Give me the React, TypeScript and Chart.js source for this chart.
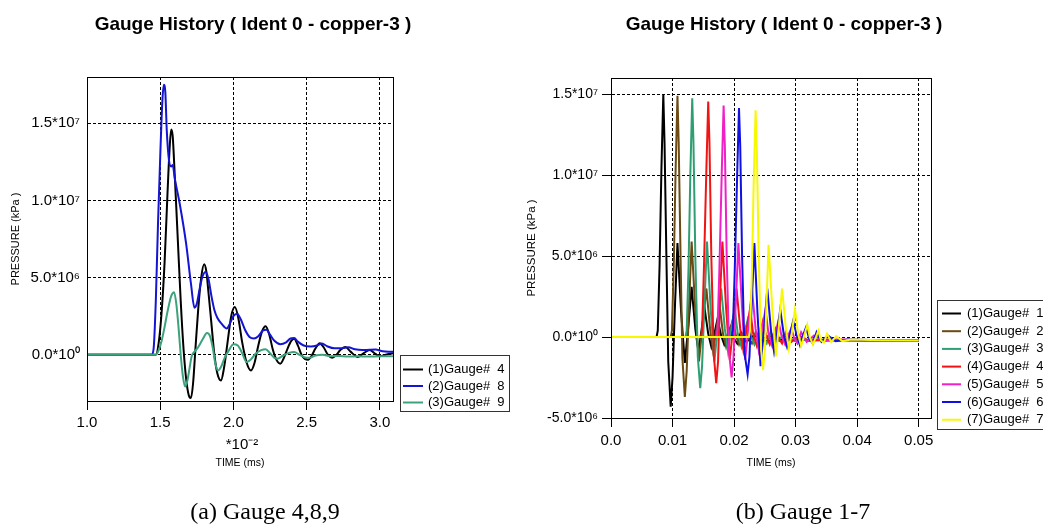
import React, { useEffect, useRef } from 'react';
import { Chart, registerables } from 'chart.js';

Chart.register(...registerables);

const FONT = '"Liberation Sans", Arial, Helvetica, sans-serif';
const SERIF = '"Liberation Serif", "Times New Roman", serif';

// ---------------- Left chart (a): time in units of 10^-2 ms, pressure in kPa ----------------
const leftXTicks = [1.0, 1.5, 2.0, 2.5, 3.0];
const leftXTickLabels = ['1.0', '1.5', '2.0', '2.5', '3.0'];
const leftYTicks = [0, 5e6, 1e7, 1.5e7];
const leftYTickLabels = ['0.0*10\u2070', '5.0*10\u2076', '1.0*10\u2077', '1.5*10\u2077'];

const leftTimeG4 = [1.0, 1.47, 1.49, 1.51, 1.53, 1.55, 1.565, 1.575, 1.585, 1.60, 1.62, 1.64, 1.66, 1.68, 1.70, 1.71, 1.725, 1.74, 1.76, 1.78, 1.80, 1.815, 1.83, 1.85, 1.87, 1.89, 1.915, 1.935, 1.96, 1.985, 2.01, 2.035, 2.06, 2.09, 2.12, 2.145, 2.17, 2.195, 2.22, 2.245, 2.27, 2.295, 2.32, 2.345, 2.37, 2.395, 2.415, 2.44, 2.465, 2.49, 2.51, 2.535, 2.56, 2.59, 2.615, 2.645, 2.675, 2.70, 2.73, 2.765, 2.80, 2.85, 2.89, 2.93, 2.97, 3.00, 3.04, 3.09];
const leftPressG4 = [0, 0, 0.8e6, 2.8e6, 6.0e6, 10.5e6, 13.5e6, 14.6e6, 14.2e6, 11.5e6, 7.5e6, 3.5e6, 0.3e6, -1.8e6, -2.75e6, -2.8e6, -1.8e6, 0.3e6, 3.0e6, 5.0e6, 5.86e6, 5.4e6, 4.0e6, 2.0e6, 0.0, -1.2e6, -1.67e6, -0.9e6, 0.8e6, 2.5e6, 3.09e6, 2.3e6, 0.8e6, -0.5e6, -1.02e6, -0.5e6, 0.6e6, 1.5e6, 1.84e6, 1.3e6, 0.3e6, -0.35e6, -0.58e6, -0.2e6, 0.4e6, 0.9e6, 1.04e6, 0.6e6, 0.0, -0.28e6, -0.32e6, -0.05e6, 0.4e6, 0.75e6, 0.5e6, 0.0, -0.2e6, -0.05e6, 0.3e6, 0.5e6, 0.2e6, -0.15e6, 0.1e6, 0.3e6, 0.05e6, -0.1e6, 0.0, 0.1e6];

const leftTimeG8 = [1.0, 1.44, 1.455, 1.47, 1.485, 1.50, 1.515, 1.525, 1.535, 1.545, 1.56, 1.575, 1.585, 1.60, 1.633, 1.677, 1.71, 1.734, 1.75, 1.77, 1.79, 1.81, 1.83, 1.85, 1.87, 1.89, 1.92, 1.955, 1.975, 2.00, 2.025, 2.05, 2.08, 2.11, 2.14, 2.17, 2.20, 2.225, 2.25, 2.28, 2.32, 2.36, 2.39, 2.415, 2.44, 2.48, 2.53, 2.57, 2.605, 2.64, 2.69, 2.74, 2.785, 2.83, 2.88, 2.93, 2.97, 3.02, 3.06, 3.09];
const leftPressG8 = [0, 0, 0.4e6, 3.5e6, 8.5e6, 12.8e6, 16.5e6, 17.5e6, 17.0e6, 14.5e6, 12.6e6, 12.2e6, 12.3e6, 11.4e6, 9.8e6, 7.2e6, 4.6e6, 3.05e6, 3.3e6, 4.3e6, 5.1e6, 5.36e6, 4.9e6, 3.8e6, 2.9e6, 2.4e6, 2.0e6, 1.7e6, 2.0e6, 2.5e6, 2.66e6, 2.3e6, 1.6e6, 1.15e6, 1.05e6, 1.2e6, 1.55e6, 1.62e6, 1.3e6, 0.9e6, 0.68e6, 0.8e6, 1.05e6, 1.08e6, 0.85e6, 0.6e6, 0.54e6, 0.6e6, 0.72e6, 0.55e6, 0.42e6, 0.42e6, 0.48e6, 0.35e6, 0.3e6, 0.32e6, 0.33e6, 0.22e6, 0.2e6, 0.2e6];

const leftTimeG9 = [1.0, 1.47, 1.49, 1.51, 1.53, 1.55, 1.575, 1.595, 1.61, 1.625, 1.64, 1.655, 1.67, 1.685, 1.70, 1.715, 1.735, 1.76, 1.79, 1.82, 1.84, 1.86, 1.875, 1.895, 1.915, 1.94, 1.97, 2.00, 2.03, 2.06, 2.09, 2.12, 2.15, 2.19, 2.22, 2.25, 2.28, 2.30, 2.34, 2.38, 2.415, 2.45, 2.49, 2.52, 2.56, 2.61, 2.66, 2.72, 2.78, 2.85, 2.92, 3.00, 3.09];
const leftPressG9 = [0, 0, 0.3e6, 0.9e6, 1.8e6, 2.8e6, 3.8e6, 4.05e6, 3.3e6, 1.8e6, 0.0, -1.4e6, -2.06e6, -1.7e6, -0.9e6, -0.1e6, 0.2e6, 0.5e6, 1.0e6, 1.4e6, 1.2e6, 0.4e6, -0.5e6, -1.02e6, -0.8e6, -0.2e6, 0.3e6, 0.68e6, 0.6e6, 0.1e6, -0.48e6, -0.3e6, 0.05e6, 0.3e6, 0.36e6, 0.1e6, -0.2e6, -0.26e6, -0.05e6, 0.12e6, 0.17e6, 0.0, -0.18e6, -0.2e6, -0.05e6, 0.0, -0.1e6, -0.08e6, -0.12e6, -0.1e6, -0.12e6, -0.1e6, -0.1e6];

const leftLabels = ['(1)Gauge#  4', '(2)Gauge#  8', '(3)Gauge#  9'];
const leftColors = ['#000000', '#1414d4', '#3ca27c'];

// ---------------- Right chart (b): time in ms, pressure in kPa ----------------
const rightXTicks = [0, 0.01, 0.02, 0.03, 0.04, 0.05];
const rightXTickLabels = ['0.0', '0.01', '0.02', '0.03', '0.04', '0.05'];
const rightYTicks = [-5e6, 0, 5e6, 1e7, 1.5e7];
const rightYTickLabels = ['-5.0*10\u2076', '0.0*10\u2070', '5.0*10\u2076', '1.0*10\u2077', '1.5*10\u2077'];

const rightTimeG1 = [0, 0.0074, 0.0076, 0.0079, 0.0082, 0.0085, 0.0087, 0.0090, 0.0093, 0.0097, 0.0100, 0.0104, 0.0108, 0.0114, 0.0120, 0.0126, 0.0131, 0.0137, 0.0142, 0.0147, 0.0152, 0.0158, 0.0163, 0.0168, 0.0173, 0.0179, 0.0184, 0.0189, 0.0194, 0.0200, 0.0205, 0.0211, 0.0220, 0.0232, 0.0250, 0.0280, 0.0350, 0.0500];
const rightPressG1 = [0, 0, 0.4e6, 4.5e6, 10.5e6, 15.0e6, 12.0e6, 5.0e6, -1.5e6, -4.3e6, -2.5e6, 2.0e6, 5.8e6, 1.5e6, -1.6e6, 0.8e6, 3.1e6, 0.5e6, -0.9e6, 0.4e6, 1.8e6, 0.2e6, -0.6e6, 0.2e6, 1.1e6, 0.1e6, -0.45e6, 0.1e6, 0.6e6, -0.1e6, -0.4e6, 0.3e6, -0.3e6, 0.1e6, -0.25e6, -0.15e6, -0.2e6, -0.22e6];

const rightTimeG2 = [0, 0.0097, 0.0099, 0.0102, 0.0105, 0.0108, 0.0110, 0.0113, 0.0116, 0.0120, 0.0123, 0.0127, 0.0131, 0.0137, 0.0143, 0.0149, 0.0155, 0.0161, 0.0166, 0.0171, 0.0177, 0.0182, 0.0187, 0.0192, 0.0198, 0.0203, 0.0208, 0.0213, 0.0219, 0.0224, 0.0229, 0.0235, 0.0244, 0.0256, 0.0274, 0.0300, 0.0370, 0.0500];
const rightPressG2 = [0, 0, 0.4e6, 4.4e6, 10.3e6, 14.9e6, 12.0e6, 5.0e6, -1.3e6, -3.7e6, -2.1e6, 2.1e6, 5.9e6, 1.6e6, -1.5e6, 0.8e6, 3.0e6, 0.5e6, -0.9e6, 0.4e6, 1.8e6, 0.2e6, -0.6e6, 0.2e6, 1.1e6, 0.1e6, -0.45e6, 0.1e6, 0.6e6, -0.1e6, -0.4e6, 0.3e6, -0.3e6, 0.1e6, -0.25e6, -0.15e6, -0.2e6, -0.22e6];

const rightTimeG3 = [0, 0.0121, 0.0123, 0.0126, 0.0129, 0.0132, 0.0134, 0.0137, 0.0141, 0.0145, 0.0148, 0.0152, 0.0156, 0.0162, 0.0168, 0.0174, 0.0179, 0.0185, 0.0190, 0.0195, 0.0201, 0.0206, 0.0212, 0.0217, 0.0222, 0.0227, 0.0233, 0.0238, 0.0243, 0.0248, 0.0253, 0.0259, 0.0268, 0.0280, 0.0298, 0.0325, 0.0390, 0.0500];
const rightPressG3 = [0, 0, 0.4e6, 4.3e6, 10.2e6, 14.75e6, 12.0e6, 5.0e6, -1.2e6, -3.15e6, -1.8e6, 2.2e6, 5.9e6, 1.7e6, -1.5e6, 0.8e6, 3.0e6, 0.5e6, -0.85e6, 0.4e6, 1.75e6, 0.2e6, -0.6e6, 0.2e6, 1.05e6, 0.1e6, -0.45e6, 0.1e6, 0.6e6, -0.1e6, -0.4e6, 0.3e6, -0.3e6, 0.1e6, -0.25e6, -0.15e6, -0.2e6, -0.22e6];

const rightTimeG4 = [0, 0.0146, 0.0148, 0.0151, 0.0155, 0.0158, 0.0160, 0.0163, 0.0167, 0.0171, 0.0174, 0.0177, 0.0181, 0.0187, 0.0193, 0.0199, 0.0204, 0.0210, 0.0215, 0.0220, 0.0226, 0.0231, 0.0237, 0.0242, 0.0247, 0.0252, 0.0258, 0.0263, 0.0268, 0.0273, 0.0278, 0.0284, 0.0293, 0.0305, 0.0322, 0.0350, 0.0410, 0.0500];
const rightPressG4 = [0, 0, 0.4e6, 4.2e6, 10.4e6, 14.55e6, 12.0e6, 5.0e6, -1.1e6, -2.85e6, -1.5e6, 2.3e6, 5.9e6, 1.8e6, -1.4e6, 0.8e6, 3.0e6, 0.5e6, -0.8e6, 0.4e6, 1.75e6, 0.2e6, -0.55e6, 0.2e6, 1.0e6, 0.1e6, -0.45e6, 0.1e6, 0.55e6, -0.1e6, -0.4e6, 0.3e6, -0.3e6, 0.1e6, -0.25e6, -0.15e6, -0.2e6, -0.22e6];

const rightTimeG5 = [0, 0.0171, 0.0173, 0.0176, 0.0180, 0.0183, 0.0185, 0.0188, 0.0192, 0.0196, 0.0199, 0.0203, 0.0207, 0.0213, 0.0218, 0.0224, 0.0229, 0.0235, 0.0240, 0.0245, 0.0251, 0.0256, 0.0262, 0.0267, 0.0272, 0.0277, 0.0283, 0.0288, 0.0293, 0.0298, 0.0303, 0.0309, 0.0318, 0.0330, 0.0345, 0.0370, 0.0430, 0.0500];
const rightPressG5 = [0, 0, 0.4e6, 4.0e6, 10.2e6, 14.3e6, 11.8e6, 5.0e6, -1.0e6, -2.5e6, -1.3e6, 2.3e6, 5.8e6, 1.8e6, -1.4e6, 0.8e6, 3.0e6, 0.5e6, -0.8e6, 0.4e6, 1.7e6, 0.2e6, -0.55e6, 0.2e6, 1.0e6, 0.1e6, -0.45e6, 0.1e6, 0.55e6, -0.1e6, -0.4e6, 0.3e6, -0.3e6, 0.1e6, -0.25e6, -0.15e6, -0.2e6, -0.22e6];

const rightTimeG6 = [0, 0.0196, 0.0198, 0.0201, 0.0205, 0.0208, 0.0210, 0.0213, 0.0217, 0.0222, 0.0225, 0.0229, 0.0233, 0.0238, 0.0243, 0.0249, 0.0254, 0.0260, 0.0265, 0.0270, 0.0275, 0.0281, 0.0286, 0.0291, 0.0296, 0.0302, 0.0307, 0.0312, 0.0317, 0.0322, 0.0328, 0.0334, 0.0342, 0.0352, 0.0365, 0.0385, 0.0440, 0.0500];
const rightPressG6 = [0, 0, 0.4e6, 4.0e6, 10.0e6, 14.15e6, 11.8e6, 5.0e6, -1.0e6, -2.3e6, -1.2e6, 2.4e6, 5.8e6, 1.5e6, -1.8e6, 0.6e6, 3.0e6, 0.4e6, -0.9e6, 0.3e6, 1.7e6, 0.1e6, -0.6e6, 0.2e6, 1.0e6, 0.1e6, -0.5e6, 0.1e6, 0.6e6, -0.1e6, -0.4e6, 0.3e6, -0.3e6, 0.1e6, -0.25e6, -0.15e6, -0.2e6, -0.22e6];

const rightTimeG7 = [0, 0.0224, 0.0226, 0.0229, 0.0232, 0.0235, 0.0237, 0.0240, 0.0244, 0.0247, 0.0250, 0.0253, 0.0256, 0.0262, 0.0268, 0.0273, 0.0278, 0.0284, 0.0289, 0.0294, 0.0299, 0.0304, 0.0309, 0.0314, 0.0319, 0.0323, 0.0328, 0.0333, 0.0337, 0.0341, 0.0346, 0.0351, 0.0358, 0.0366, 0.0376, 0.0390, 0.0440, 0.0500];
const rightPressG7 = [0, 0, 0.4e6, 4.0e6, 9.8e6, 14.0e6, 11.5e6, 5.0e6, -0.8e6, -2.05e6, -0.8e6, 2.4e6, 5.7e6, 1.8e6, -1.2e6, 0.8e6, 3.0e6, 0.6e6, -0.7e6, 0.3e6, 1.72e6, 0.2e6, -0.55e6, 0.1e6, 0.76e6, 0.0, -0.45e6, 0.0, 0.4e6, -0.2e6, -0.35e6, 0.2e6, -0.3e6, 0.05e6, -0.25e6, -0.15e6, -0.2e6, -0.22e6];

const rightLabels = ['(1)Gauge#  1', '(2)Gauge#  2', '(3)Gauge#  3', '(4)Gauge#  4', '(5)Gauge#  5', '(6)Gauge#  6', '(7)Gauge#  7'];
const rightColors = ['#000000', '#6b4a14', '#2f9e72', '#f01414', '#f020c8', '#1010e0', '#f8f800'];

// ---------------- helpers ----------------
const pts = (t: number[], v: number[]) => t.map((x, i) => ({ x, y: v[i] }));

const decorPlugin = {
  id: 'decor',
  afterDraw(chart: any, _args: any, o: any) {
    const ctx: CanvasRenderingContext2D = chart.ctx;
    const a = chart.chartArea;
    ctx.save();
    ctx.setLineDash([]);
    ctx.strokeStyle = '#000';
    ctx.lineWidth = 1;
    const l = Math.round(a.left), t = Math.round(a.top), r = Math.round(a.right), b = Math.round(a.bottom);
    ctx.strokeRect(l + 0.5, t + 0.5, r - l, b - t);

    ctx.fillStyle = '#000';
    ctx.textAlign = 'center';
    ctx.textBaseline = 'alphabetic';
    ctx.font = `bold 19px ${FONT}`;
    ctx.fillText(o.title, o.titleX, o.titleY);
    ctx.font = `24px ${SERIF}`;
    ctx.fillText(o.caption, o.captionX, o.captionY);

    ctx.textBaseline = 'middle';
    ctx.font = `${o.xTitleSize}px ${FONT}`;
    ctx.fillText(o.xTitle, (a.left + a.right) / 2, o.xTitleY);
    if (o.xExp) {
      ctx.font = `15px ${FONT}`;
      ctx.fillText(o.xExp, o.xExpX, o.xExpY);
    }
    ctx.save();
    ctx.translate(o.yTitleX, (a.top + a.bottom) / 2);
    ctx.rotate(-Math.PI / 2);
    ctx.font = `${o.yTitleSize}px ${FONT}`;
    ctx.fillText(o.yTitle, 0, 0);
    ctx.restore();

    // legend box
    ctx.strokeStyle = '#333';
    ctx.lineWidth = 1;
    ctx.strokeRect(o.legX + 0.5, o.legY + 0.5, o.legW, o.legH);
    ctx.font = `13px ${FONT}`;
    ctx.textAlign = 'left';
    chart.data.datasets.forEach((ds: any, i: number) => {
      const y = o.legFirstY + i * o.legStep;
      ctx.strokeStyle = ds.borderColor;
      ctx.lineWidth = 2;
      ctx.beginPath();
      ctx.moveTo(o.legLineX0, y);
      ctx.lineTo(o.legLineX1, y);
      ctx.stroke();
      ctx.fillStyle = '#000';
      ctx.fillText(ds.label, o.legTextX, y);
    });
    ctx.restore();
  },
};

function makeScales(p: any) {
  return {
    x: {
      type: 'linear',
      min: p.xMin,
      max: p.xMax,
      afterBuildTicks: (s: any) => { s.ticks = p.xTicks.map((value: number) => ({ value })); },
      afterFit: (s: any) => { s.height = 30; },
      ticks: {
        callback: (_v: any, i: number) => p.xLabels[i],
        font: { size: 15, family: FONT },
        color: '#000',
        padding: p.xPad,
        maxRotation: 0,
        autoSkip: false,
      },
      grid: { color: '#000', lineWidth: 1, drawTicks: true, tickLength: 9, tickColor: '#000', tickWidth: 1 },
      border: { display: true, color: '#000', width: 1, dash: [3, 2] },
    },
    y: {
      type: 'linear',
      min: p.yMin,
      max: p.yMax,
      afterBuildTicks: (s: any) => { s.ticks = p.yTicks.map((value: number) => ({ value })); },
      afterFit: (s: any) => { s.width = p.yWidth; },
      ticks: {
        callback: (_v: any, i: number) => p.yLabels[i],
        font: { size: p.yFont, family: FONT },
        color: '#000',
        padding: p.yPad,
        autoSkip: false,
      },
      grid: { color: '#000', lineWidth: 1, drawTicks: p.yDrawTicks, tickLength: 9, tickColor: '#000', tickWidth: 1 },
      border: { display: true, color: '#000', width: 1, dash: [3, 2] },
    },
  };
}

export default function App() {
  const leftRef = useRef<HTMLCanvasElement>(null);
  const rightRef = useRef<HTMLCanvasElement>(null);

  useEffect(() => {
    const leftSeries = [pts(leftTimeG4, leftPressG4), pts(leftTimeG8, leftPressG8), pts(leftTimeG9, leftPressG9)];
    const left = new Chart(leftRef.current as HTMLCanvasElement, {
      type: 'line',
      data: {
        datasets: leftSeries.map((d, i) => ({
          label: leftLabels[i],
          data: d,
          borderColor: leftColors[i],
          backgroundColor: leftColors[i],
          borderWidth: 2,
          pointRadius: 0,
          fill: false,
          cubicInterpolationMode: 'monotone',
          order: leftSeries.length - i,
        })),
      },
      options: {
        animation: false,
        responsive: false,
        devicePixelRatio: 1,
        events: [],
        layout: { padding: { left: 0, top: 77, right: 128, bottom: 98 } },
        scales: makeScales({
          xMin: 1.0, xMax: 3.09, xTicks: leftXTicks, xLabels: leftXTickLabels, xPad: 4,
          yMin: -3e6, yMax: 1.8e7, yTicks: leftYTicks, yLabels: leftYTickLabels,
          yWidth: 87, yPad: 7, yFont: 15, yDrawTicks: false,
        }) as any,
        plugins: {
          legend: { display: false },
          title: { display: false },
          tooltip: { enabled: false },
          decor: {
            title: 'Gauge History ( Ident 0 - copper-3 )', titleX: 253, titleY: 29.5,
            caption: '(a) Gauge 4,8,9', captionX: 265, captionY: 519,
            xTitle: 'TIME (ms)', xTitleY: 463, xTitleSize: 10.5,
            xExp: '*10\u207B\u00B2', xExpX: 242, xExpY: 445,
            yTitle: 'PRESSURE (kPa )', yTitleX: 16, yTitleSize: 11,
            legX: 400, legY: 355, legW: 109, legH: 56,
            legFirstY: 369.5, legStep: 16.5, legLineX0: 403, legLineX1: 423, legTextX: 428,
          },
        } as any,
      },
      plugins: [decorPlugin],
    } as any);

    const rightSeries = [
      pts(rightTimeG1, rightPressG1), pts(rightTimeG2, rightPressG2), pts(rightTimeG3, rightPressG3),
      pts(rightTimeG4, rightPressG4), pts(rightTimeG5, rightPressG5), pts(rightTimeG6, rightPressG6),
      pts(rightTimeG7, rightPressG7),
    ];
    const right = new Chart(rightRef.current as HTMLCanvasElement, {
      type: 'line',
      data: {
        datasets: rightSeries.map((d, i) => ({
          label: rightLabels[i],
          data: d,
          borderColor: rightColors[i],
          backgroundColor: rightColors[i],
          borderWidth: 2,
          pointRadius: 0,
          fill: false,
          tension: 0,
          order: rightSeries.length - i,
        })),
      },
      options: {
        animation: false,
        responsive: false,
        devicePixelRatio: 1,
        events: [],
        layout: { padding: { left: 0, top: 78, right: 112, bottom: 81 } },
        scales: makeScales({
          xMin: 0, xMax: 0.052, xTicks: rightXTicks, xLabels: rightXTickLabels, xPad: 5,
          yMin: -5e6, yMax: 1.6e7, yTicks: rightYTicks, yLabels: rightYTickLabels,
          yWidth: 90, yPad: 4, yFont: 14, yDrawTicks: true,
        }) as any,
        plugins: {
          legend: { display: false },
          title: { display: false },
          tooltip: { enabled: false },
          decor: {
            title: 'Gauge History ( Ident 0 - copper-3 )', titleX: 263, titleY: 29.5,
            caption: '(b) Gauge 1-7', captionX: 282, captionY: 519,
            xTitle: 'TIME (ms)', xTitleY: 463, xTitleSize: 10.5,
            xExp: '', xExpX: 0, xExpY: 0,
            yTitle: 'PRESSURE (kPa )', yTitleX: 11, yTitleSize: 11.5,
            legX: 416, legY: 300, legW: 120, legH: 129,
            legFirstY: 313.5, legStep: 17.7, legLineX0: 421, legLineX1: 440, legTextX: 446,
          },
        } as any,
      },
      plugins: [decorPlugin],
    } as any);

    return () => {
      left.destroy();
      right.destroy();
    };
  }, []);

  return (
    <div style={{ position: 'absolute', left: 0, top: 0, width: 1043, height: 529, background: '#fff', overflow: 'hidden' }}>
      <canvas ref={leftRef} width={521} height={529} style={{ position: 'absolute', left: 0, top: 0, width: 521, height: 529 }} />
      <canvas ref={rightRef} width={522} height={529} style={{ position: 'absolute', left: 521, top: 0, width: 522, height: 529 }} />
    </div>
  );
}
